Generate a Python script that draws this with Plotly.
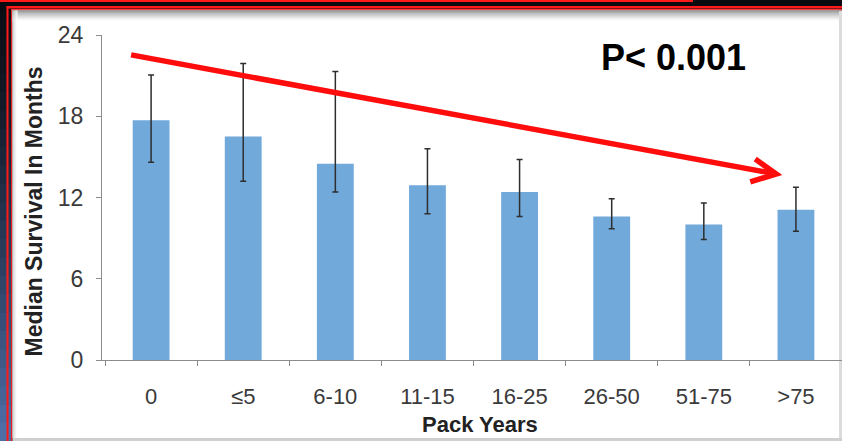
import plotly.graph_objects as go

# ---- data ----
categories = ["0", "≤5", "6-10", "11-15", "16-25", "26-50", "51-75", ">75"]
median_survival = [17.7, 16.5, 14.5, 12.9, 12.4, 10.6, 10.0, 11.1]
ci_upper = [21.05, 21.9, 21.3, 15.6, 14.8, 11.9, 11.6, 12.75]
ci_lower = [14.6, 13.2, 12.4, 10.8, 10.6, 9.7, 8.9, 9.5]
y_ticks = [0, 6, 12, 18, 24]
# trend arrow (category index, months)
arrow_start = (-0.217, 22.53)
arrow_tip = (6.786, 13.74)
arrow_barb_up = (6.558, 14.84)
arrow_barb_low = (6.504, 13.15)

W, H = 842, 441
L, R, T, B = 102, 0, 35, 81
PW, PH = W - L - R, H - T - B

def px(x):
    return (x - L) / PW

def py(y):
    return (H - B - y) / PH

err_plus = [u - m for u, m in zip(ci_upper, median_survival)]
err_minus = [m - l for m, l in zip(median_survival, ci_lower)]

fig = go.Figure()
fig.add_trace(go.Bar(
    x=categories, y=median_survival,
    marker=dict(color="#72a9db", line=dict(width=0)),
    error_y=dict(type="data", symmetric=False, array=err_plus, arrayminus=err_minus,
                 color="#2e2e2e", thickness=1.5, width=3),
    showlegend=False,
))

shapes = []
# background frame pieces
def rect(x0, y0, x1, y1, color, layer="below"):
    shapes.append(dict(type="rect", xref="paper", yref="paper",
                       x0=px(x0), x1=px(x1), y0=py(y0), y1=py(y1),
                       fillcolor=color, line=dict(width=0), layer=layer))

def lerp(c0, c1, t):
    return "#%02x%02x%02x" % tuple(int(round(a + (b - a) * t)) for a, b in zip(c0, c1))

# left dark-to-blue strip
n = 24
for i in range(n):
    y0 = H * i / n
    y1 = H * (i + 1) / n
    c = lerp((10, 13, 20), (78, 110, 168), (i / (n - 1)) ** 1.3)
    rect(0, y0, 12, y1 + 0.5, c)
# top dark strip
rect(0, 0, W, 10, "#090b11")
# top red line
rect(0, 0, 693, 2, "#ff1a1a")
# red frame
rect(6.5, 6, W, 8.5, "#ff1a1a")
rect(6.5, 6, 8.5, H, "#ff1a1a")
rect(11, 9, 12.5, H, "#e82020")
rect(11, 9, W, 10.5, "#f04040")
# white panel
rect(12.5, 10.5, 839, 438, "#ffffff")
# top shadow
for i in range(10):
    c = lerp((150, 150, 150), (255, 255, 255), (i / 9) ** 0.7)
    rect(12.5, 10.5 + i * 1.1, 839, 10.5 + (i + 1) * 1.1 + 0.3, c)
# left soft shadow
for i in range(5):
    c = lerp((200, 200, 200), (255, 255, 255), i / 4)
    rect(12.5 + i, 10.5, 13.5 + i, 438, c)
# right and bottom edges
rect(839, 10.5, W, H, "#dcdcdc")
rect(12.5, 438, W, H, "#cfcfcf")

# trend arrow
red = "#ff0d0d"
shapes.append(dict(type="line", xref="x", yref="y",
                   x0=arrow_start[0], y0=arrow_start[1], x1=arrow_tip[0], y1=arrow_tip[1],
                   line=dict(color=red, width=5.5), layer="above"))
shapes.append(dict(type="path", xref="x", yref="y",
                   path="M %f,%f L %f,%f L %f,%f" % (arrow_barb_up[0], arrow_barb_up[1],
                                                     arrow_tip[0], arrow_tip[1],
                                                     arrow_barb_low[0], arrow_barb_low[1]),
                   line=dict(color=red, width=5.5), layer="above"))

font_fam = "Liberation Sans, Arial, sans-serif"
annotations = [
    dict(text="P< 0.001", xref="paper", yref="paper", x=px(673), y=py(57.5),
         xanchor="center", yanchor="middle", showarrow=False,
         font=dict(family=font_fam, size=36, color="#000000", weight="bold")),
    dict(text="Median Survival In Months", xref="paper", yref="paper", x=px(33.5), y=py(212),
         xanchor="center", yanchor="middle", showarrow=False, textangle=-90,
         font=dict(family=font_fam, size=23, color="#222222", weight="bold")),
    dict(text="Pack Years", xref="paper", yref="paper", x=px(480), y=py(424),
         xanchor="center", yanchor="middle", showarrow=False,
         font=dict(family=font_fam, size=22, color="#222222", weight="bold")),
]

fig.update_layout(
    width=W, height=H,
    margin=dict(l=L, r=R, t=T, b=B, pad=0),
    paper_bgcolor="#0d111a",
    plot_bgcolor="rgba(0,0,0,0)",
    bargap=0.6,
    shapes=shapes,
    annotations=annotations,
    xaxis=dict(type="category", range=[-0.533, 7.5], tickson="boundaries",
               ticks="outside", ticklen=5, tickcolor="#8c8c8c", tickwidth=1,
               showline=True, linecolor="#8c8c8c", linewidth=1.2,
               showgrid=False, zeroline=False, ticklabelstandoff=16,
               tickfont=dict(family=font_fam, size=22, color="#3a3a3a")),
    yaxis=dict(range=[0, 24], tickvals=y_ticks, ticks="outside", ticklen=5,
               tickcolor="#8c8c8c", showline=True, linecolor="#8c8c8c", linewidth=1.2,
               showgrid=False, zeroline=False, ticklabelstandoff=8,
               tickfont=dict(family=font_fam, size=23, color="#3a3a3a")),
)

fig.write_html("out.html")
